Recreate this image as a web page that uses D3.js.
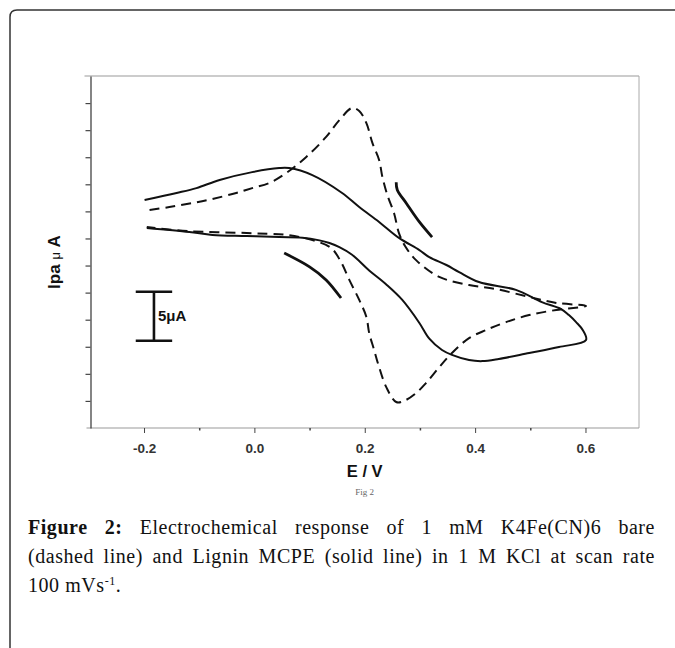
<!DOCTYPE html>
<html>
<head>
<meta charset="utf-8">
<script src="https://cdn.jsdelivr.net/npm/d3@7/dist/d3.min.js"></script>
<style>
  body { margin: 0; background: #fff; }
</style>
</head>
<body>
<div id="chart"></div>
<script>
// potential in V, current in axis-tick units (the y axis has 13 unlabeled steps)
var solidE = [-0.195, -0.118, -0.076, -0.014, 0.045, 0.087, 0.118, 0.136, 0.154, 0.177, 0.208, 0.239, 0.268, 0.299, 0.317, 0.340, 0.358, 0.389, 0.413, 0.443, 0.498, 0.552, 0.601,
              0.595, 0.583, 0.570, 0.556, 0.521, 0.474, 0.407, 0.371, 0.348, 0.317, 0.299, 0.262, 0.226, 0.190, 0.159, 0.105, 0.063, 0.045, -0.004, -0.063, -0.105, -0.141, -0.199];
var solidI = [7.39, 7.24, 7.13, 7.09, 7.05, 7.03, 6.93, 6.83, 6.68, 6.40, 5.82, 5.30, 4.73, 3.88, 3.30, 2.88, 2.70, 2.51, 2.47, 2.55, 2.77, 2.99, 3.25,
              3.62, 3.91, 4.17, 4.39, 4.65, 5.10, 5.39, 5.76, 6.02, 6.31, 6.57, 7.02, 7.61, 8.16, 8.68, 9.34, 9.60, 9.60, 9.45, 9.16, 8.86, 8.68, 8.42];

var dashedE = [-0.190, -0.154, -0.112, -0.076, -0.033, -0.004, 0.027, 0.058, 0.094, 0.130, 0.154, 0.177, 0.190, 0.203, 0.214, 0.226, 0.232, 0.241, 0.253, 0.262, 0.273, 0.293, 0.335, 0.389, 0.438, 0.498, 0.547, 0.601,
               0.547, 0.498, 0.456, 0.420, 0.389, 0.358, 0.335, 0.311, 0.293, 0.271, 0.257, 0.239, 0.226, 0.217, 0.208, 0.203, 0.190, 0.172, 0.157, 0.139, 0.105, 0.058, -0.014, -0.118, -0.195];
var dashedI = [8.05, 8.16, 8.31, 8.46, 8.68, 8.86, 9.05, 9.42, 10.01, 10.75, 11.37, 11.82, 11.71, 11.26, 10.52, 9.90, 9.27, 8.60, 7.94, 7.20, 6.72, 6.20, 5.58, 5.28, 5.13, 4.84, 4.62, 4.51,
               4.36, 4.17, 3.91, 3.62, 3.32, 2.77, 2.25, 1.66, 1.29, 1.00, 0.96, 1.51, 2.25, 2.88, 3.51, 4.10, 4.73, 5.47, 6.13, 6.65, 6.94, 7.13, 7.20, 7.27, 7.42];

// two short solid strokes drawn beside the curves
var strokeAE = [0.257, 0.259, 0.275, 0.299, 0.322];
var strokeAI = [9.08, 8.79, 8.31, 7.61, 7.05];
var strokeBE = [0.054, 0.100, 0.130, 0.157];
var strokeBI = [6.46, 5.95, 5.47, 4.80];

var xMajorTicks = [-0.2, 0.0, 0.2, 0.4, 0.6];
var xTickLabels = ["-0.2", "0.0", "0.2", "0.4", "0.6"];
var xMinorTicks = [-0.1, 0.1, 0.3, 0.5];
var yTicks = [1, 2, 3, 4, 5, 6, 7, 8, 9, 10, 11, 12];

// 5 µA scale bar, in data units
var barE = -0.182;
var barHalfWidth = 0.033;
var barLow = 3.22;
var barHigh = 5.03;

var captionLine1 = [["Figure", true], ["2:", true], ["Electrochemical", false], ["response", false], ["of", false], ["1", false], ["mM", false], ["K4Fe(CN)6", false], ["bare", false]];
var captionLine2 = ["(dashed", "line)", "and", "Lignin", "MCPE", "(solid", "line)", "in", "1", "M", "KCl", "at", "scan", "rate"];

function init(){
  var w = 675;
  var h = 648;

  var svg = d3.select("#chart")
    .append("svg")
    .attr("width", w)
    .attr("height", h);

  var xScale = d3.scaleLinear().domain([-0.297, 0.697]).range([90.5, 639]);
  var yScale = d3.scaleLinear().domain([0, 13]).range([428, 76]);
  var x0 = xScale.range()[0], x1 = xScale.range()[1];
  var yb = yScale.range()[0], yt = yScale.range()[1];

  // outer frame with rounded corner
  svg.append("path")
    .attr("d", "M10,660 V17 Q10,10 17,10 H690")
    .attr("fill", "none")
    .attr("stroke", "#333")
    .attr("stroke-width", 1.5);

  // plot box (top, right, bottom)
  svg.append("line").attr("x1", x0 - 6).attr("x2", x1).attr("y1", yt).attr("y2", yt)
    .attr("stroke", "#999").attr("stroke-width", 1);
  svg.append("line").attr("x1", x1).attr("x2", x1).attr("y1", yt).attr("y2", yb)
    .attr("stroke", "#aaa").attr("stroke-width", 1);
  svg.append("line").attr("x1", x0 - 4).attr("x2", x1).attr("y1", yb).attr("y2", yb)
    .attr("stroke", "#999").attr("stroke-width", 1);

  // x axis major
  var xAxis = d3.axisBottom(xScale)
    .tickValues(xMajorTicks)
    .tickSize(5)
    .tickPadding(10)
    .tickFormat(function(d, i) { return xTickLabels[i]; });
  var gx = svg.append("g")
    .attr("transform", "translate(0," + yb + ")")
    .call(xAxis);
  gx.select(".domain").remove();
  gx.selectAll(".tick line").attr("stroke", "#444").attr("stroke-width", 1);
  gx.selectAll(".tick text")
    .attr("fill", "#333")
    .style("font-family", "Liberation Sans, Arial, sans-serif")
    .style("font-weight", "bold")
    .style("font-size", "13.5px");

  // x axis minor
  var gxm = svg.append("g")
    .attr("transform", "translate(0," + yb + ")")
    .call(d3.axisBottom(xScale).tickValues(xMinorTicks).tickSize(2.5).tickFormat(""));
  gxm.select(".domain").remove();
  gxm.selectAll(".tick line").attr("stroke", "#444").attr("stroke-width", 1.5);

  // y axis
  var gy = svg.append("g")
    .attr("transform", "translate(" + x0 + ",0)")
    .call(d3.axisLeft(yScale).tickValues(yTicks).tickSize(5).tickSizeOuter(0).tickFormat(""));
  gy.select(".domain").attr("stroke", "#333").attr("stroke-width", 1.2);
  gy.selectAll(".tick line").attr("stroke", "#444").attr("stroke-width", 1.2);

  // axis titles
  svg.append("text")
    .attr("x", xScale(0.2))
    .attr("y", 477)
    .attr("text-anchor", "middle")
    .style("font-family", "Liberation Sans, Arial, sans-serif")
    .style("font-weight", "bold")
    .style("font-size", "16.5px")
    .attr("fill", "#111")
    .text("E / V");

  var yl = svg.append("text")
    .attr("transform", "translate(60,262) rotate(-90)")
    .attr("text-anchor", "middle")
    .style("font-family", "Liberation Sans, Arial, sans-serif")
    .style("font-size", "17px")
    .attr("fill", "#111");
  yl.append("tspan").style("font-weight", "bold").text("Ipa ");
  yl.append("tspan").style("font-size", "13px").text("\u03bc");
  yl.append("tspan").style("font-weight", "bold").text(" A");

  svg.append("text")
    .attr("x", xScale(0.2))
    .attr("y", 495)
    .attr("text-anchor", "middle")
    .style("font-family", "Liberation Serif, serif")
    .style("font-size", "9px")
    .attr("fill", "#666")
    .text("Fig 2");

  // curves
  var line = d3.line()
    .x(function(d) { return xScale(d[0]); })
    .y(function(d) { return yScale(d[1]); })
    .curve(d3.curveCatmullRom.alpha(0.5));

  svg.append("path")
    .datum(d3.zip(solidE, solidI))
    .attr("fill", "none")
    .attr("stroke", "#111")
    .attr("stroke-width", 2)
    .attr("d", line);

  svg.append("path")
    .datum(d3.zip(dashedE, dashedI))
    .attr("fill", "none")
    .attr("stroke", "#111")
    .attr("stroke-width", 2)
    .attr("stroke-dasharray", "10,6")
    .attr("d", line);

  [d3.zip(strokeAE, strokeAI), d3.zip(strokeBE, strokeBI)].forEach(function(pts) {
    svg.append("path")
      .datum(pts)
      .attr("fill", "none")
      .attr("stroke", "#111")
      .attr("stroke-width", 2.8)
      .attr("d", line);
  });

  // scale bar
  var bar = svg.append("g").attr("stroke", "#111").attr("stroke-width", 2.6);
  bar.append("line")
    .attr("x1", xScale(barE)).attr("x2", xScale(barE))
    .attr("y1", yScale(barHigh)).attr("y2", yScale(barLow));
  [barHigh, barLow].forEach(function(v) {
    bar.append("line")
      .attr("x1", xScale(barE - barHalfWidth)).attr("x2", xScale(barE + barHalfWidth))
      .attr("y1", yScale(v)).attr("y2", yScale(v));
  });
  svg.append("text")
    .attr("x", xScale(barE) + 4)
    .attr("y", yScale((barHigh + barLow) / 2) + 5)
    .style("font-family", "Liberation Sans, Arial, sans-serif")
    .style("font-weight", "bold")
    .style("font-size", "15px")
    .attr("fill", "#111")
    .text("5\u03bcA");

  // caption, justified lines
  var capLeft = 28, capRight = 655;
  var capFont = "Liberation Serif, 'Times New Roman', serif";
  function justify(words, y) {
    var nodes = words.map(function(wd) {
      return svg.append("text")
        .attr("y", y)
        .style("font-family", capFont)
        .style("font-size", "20px")
        .style("letter-spacing", "0.55px")
        .style("font-weight", wd[1] ? "bold" : "normal")
        .attr("fill", "#111")
        .text(wd[0]);
    });
    var widths = nodes.map(function(n) { return n.node().getComputedTextLength(); });
    var gap = (capRight - capLeft - d3.sum(widths)) / (nodes.length - 1);
    var x = capLeft;
    nodes.forEach(function(n, i) {
      n.attr("x", x);
      x += widths[i] + gap;
    });
  }
  justify(captionLine1, 534);
  justify(captionLine2.map(function(t) { return [t, false]; }), 563);

  var l3 = svg.append("text")
    .attr("x", capLeft)
    .attr("y", 592)
    .style("font-family", capFont)
    .style("font-size", "20px")
    .style("letter-spacing", "0.55px")
    .attr("fill", "#111");
  l3.append("tspan").text("100 mVs");
  l3.append("tspan").attr("dy", -7).style("font-size", "12px").text("-1");
  l3.append("tspan").attr("dy", 7).text(".");
}

window.onload = init;
</script>
</body>
</html>
